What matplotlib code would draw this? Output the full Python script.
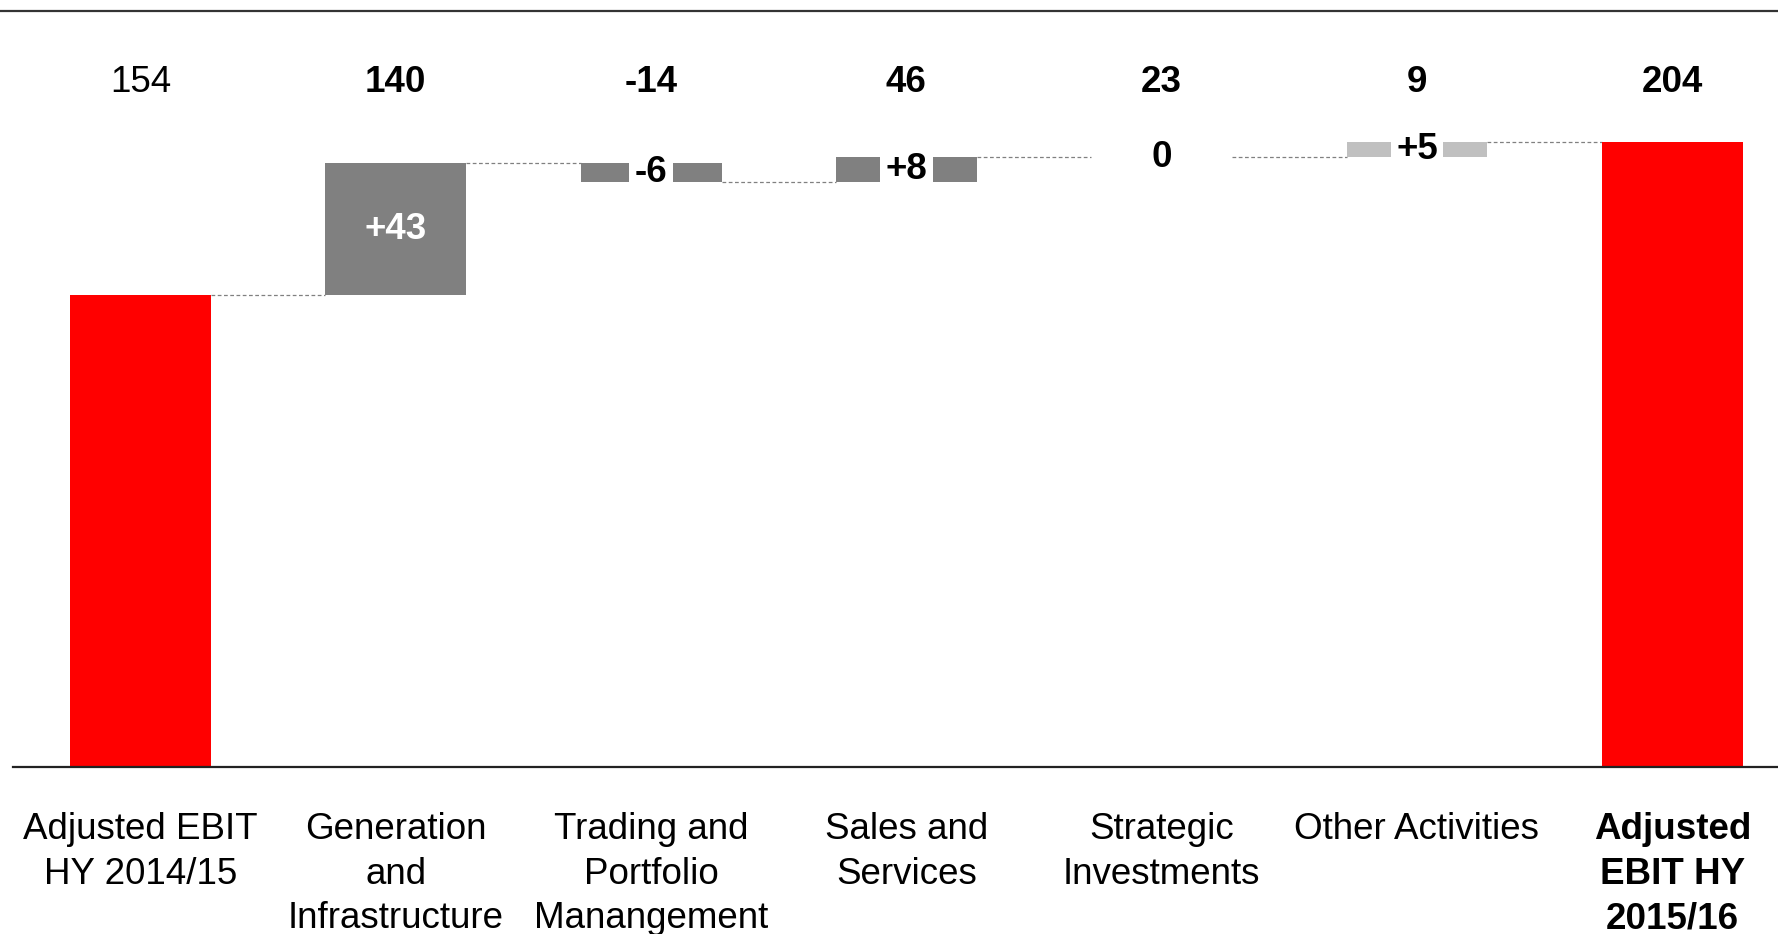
import matplotlib
matplotlib.use("Agg")
import matplotlib.pyplot as plt
from matplotlib.lines import Line2D
import numpy as np

plt.rcParams['font.family'] = ['Liberation Sans', 'DejaVu Sans']

# ---- data ----
categories = ["Adjusted EBIT\nHY 2014/15", "Generation\nand\nInfrastructure",
              "Trading and\nPortfolio\nManangement", "Sales and\nServices",
              "Strategic\nInvestments", "Other Activities", "Adjusted\nEBIT HY\n2015/16"]
values = [154, 43, -6, 8, 0, 5, 204]
is_total = [True, False, False, False, False, False, True]
bar_labels = ["", "+43", "-6", "+8", "0", "+5", ""]
top_labels = ["154", "140", "-14", "46", "23", "9", "204"]
top_bold = [False, True, True, True, True, True, True]
cat_bold = [False, False, False, False, False, False, True]
colors = ["#FF0000", "#808080", "#808080", "#808080", "#808080", "#C0C0C0", "#FF0000"]

W, H = 1778, 934
fig = plt.figure(figsize=(W / 100, H / 100), dpi=100)
base_px, top_px = 767, 10
ax = fig.add_axes([0, (H - base_px) / H, 1, (base_px - top_px) / H])
px_per_unit = 3.065
ax.set_xlim(-0.550, 6.414)
ax.set_ylim(0, (base_px - top_px) / px_per_unit)
ax.axis('off')

x = np.arange(len(values))
width = 0.552
FS = 26.5

bottoms, heights, levels = [], [], []
level = 0
for v, tot in zip(values, is_total):
    if tot:
        bottoms.append(0)
        heights.append(v)
        level = v
    else:
        bottoms.append(level if v >= 0 else level + v)
        heights.append(abs(v))
        level = level + v
    levels.append(level)

ax.bar(x, heights, bottom=bottoms, width=width, color=colors, linewidth=0, zorder=2)

# connectors
for i in range(len(values) - 1):
    ax.plot([x[i] + width / 2, x[i + 1] - width / 2], [levels[i], levels[i]],
            color="#808080", lw=0.9, linestyle=(0, (3, 2)), zorder=1)

# labels on bars
for i, lab in enumerate(bar_labels):
    if not lab:
        continue
    yc = bottoms[i] + heights[i] / 2
    if heights[i] > 20:
        ax.text(x[i], yc, lab, ha='center', va='center', fontsize=FS,
                fontweight='bold', color='white', zorder=3)
    elif heights[i] == 0:
        ax.text(x[i], yc, lab, ha='center', va='center', fontsize=FS,
                fontweight='bold', color='black', zorder=3)
    else:
        ax.text(x[i], yc, lab, ha='center', va='center', fontsize=FS,
                fontweight='bold', color='black', zorder=3,
                bbox=dict(boxstyle='square,pad=0.15', facecolor='white', edgecolor='none'))

# top value row
top_y = (base_px - 83) / px_per_unit
for i, lab in enumerate(top_labels):
    ax.text(x[i], top_y, lab, ha='center', va='center', fontsize=FS,
            fontweight='bold' if top_bold[i] else 'normal', color='black')

# category labels
cat_y = -(812 - base_px) / px_per_unit
for i, lab in enumerate(categories):
    ax.text(x[i], cat_y, lab, ha='center', va='top', fontsize=FS, linespacing=1.36,
            fontweight='bold' if cat_bold[i] else 'normal', color='black', clip_on=False)

# baseline
ax.plot([-0.5, 6.414], [0, 0], color='#222222', lw=1.6, clip_on=False, zorder=4)
# top rule
fig.add_artist(Line2D([0, 1], [1 - 10.5 / H] * 2, transform=fig.transFigure,
                      color='#333333', lw=1.6))

fig.savefig('out.png', dpi=100)
